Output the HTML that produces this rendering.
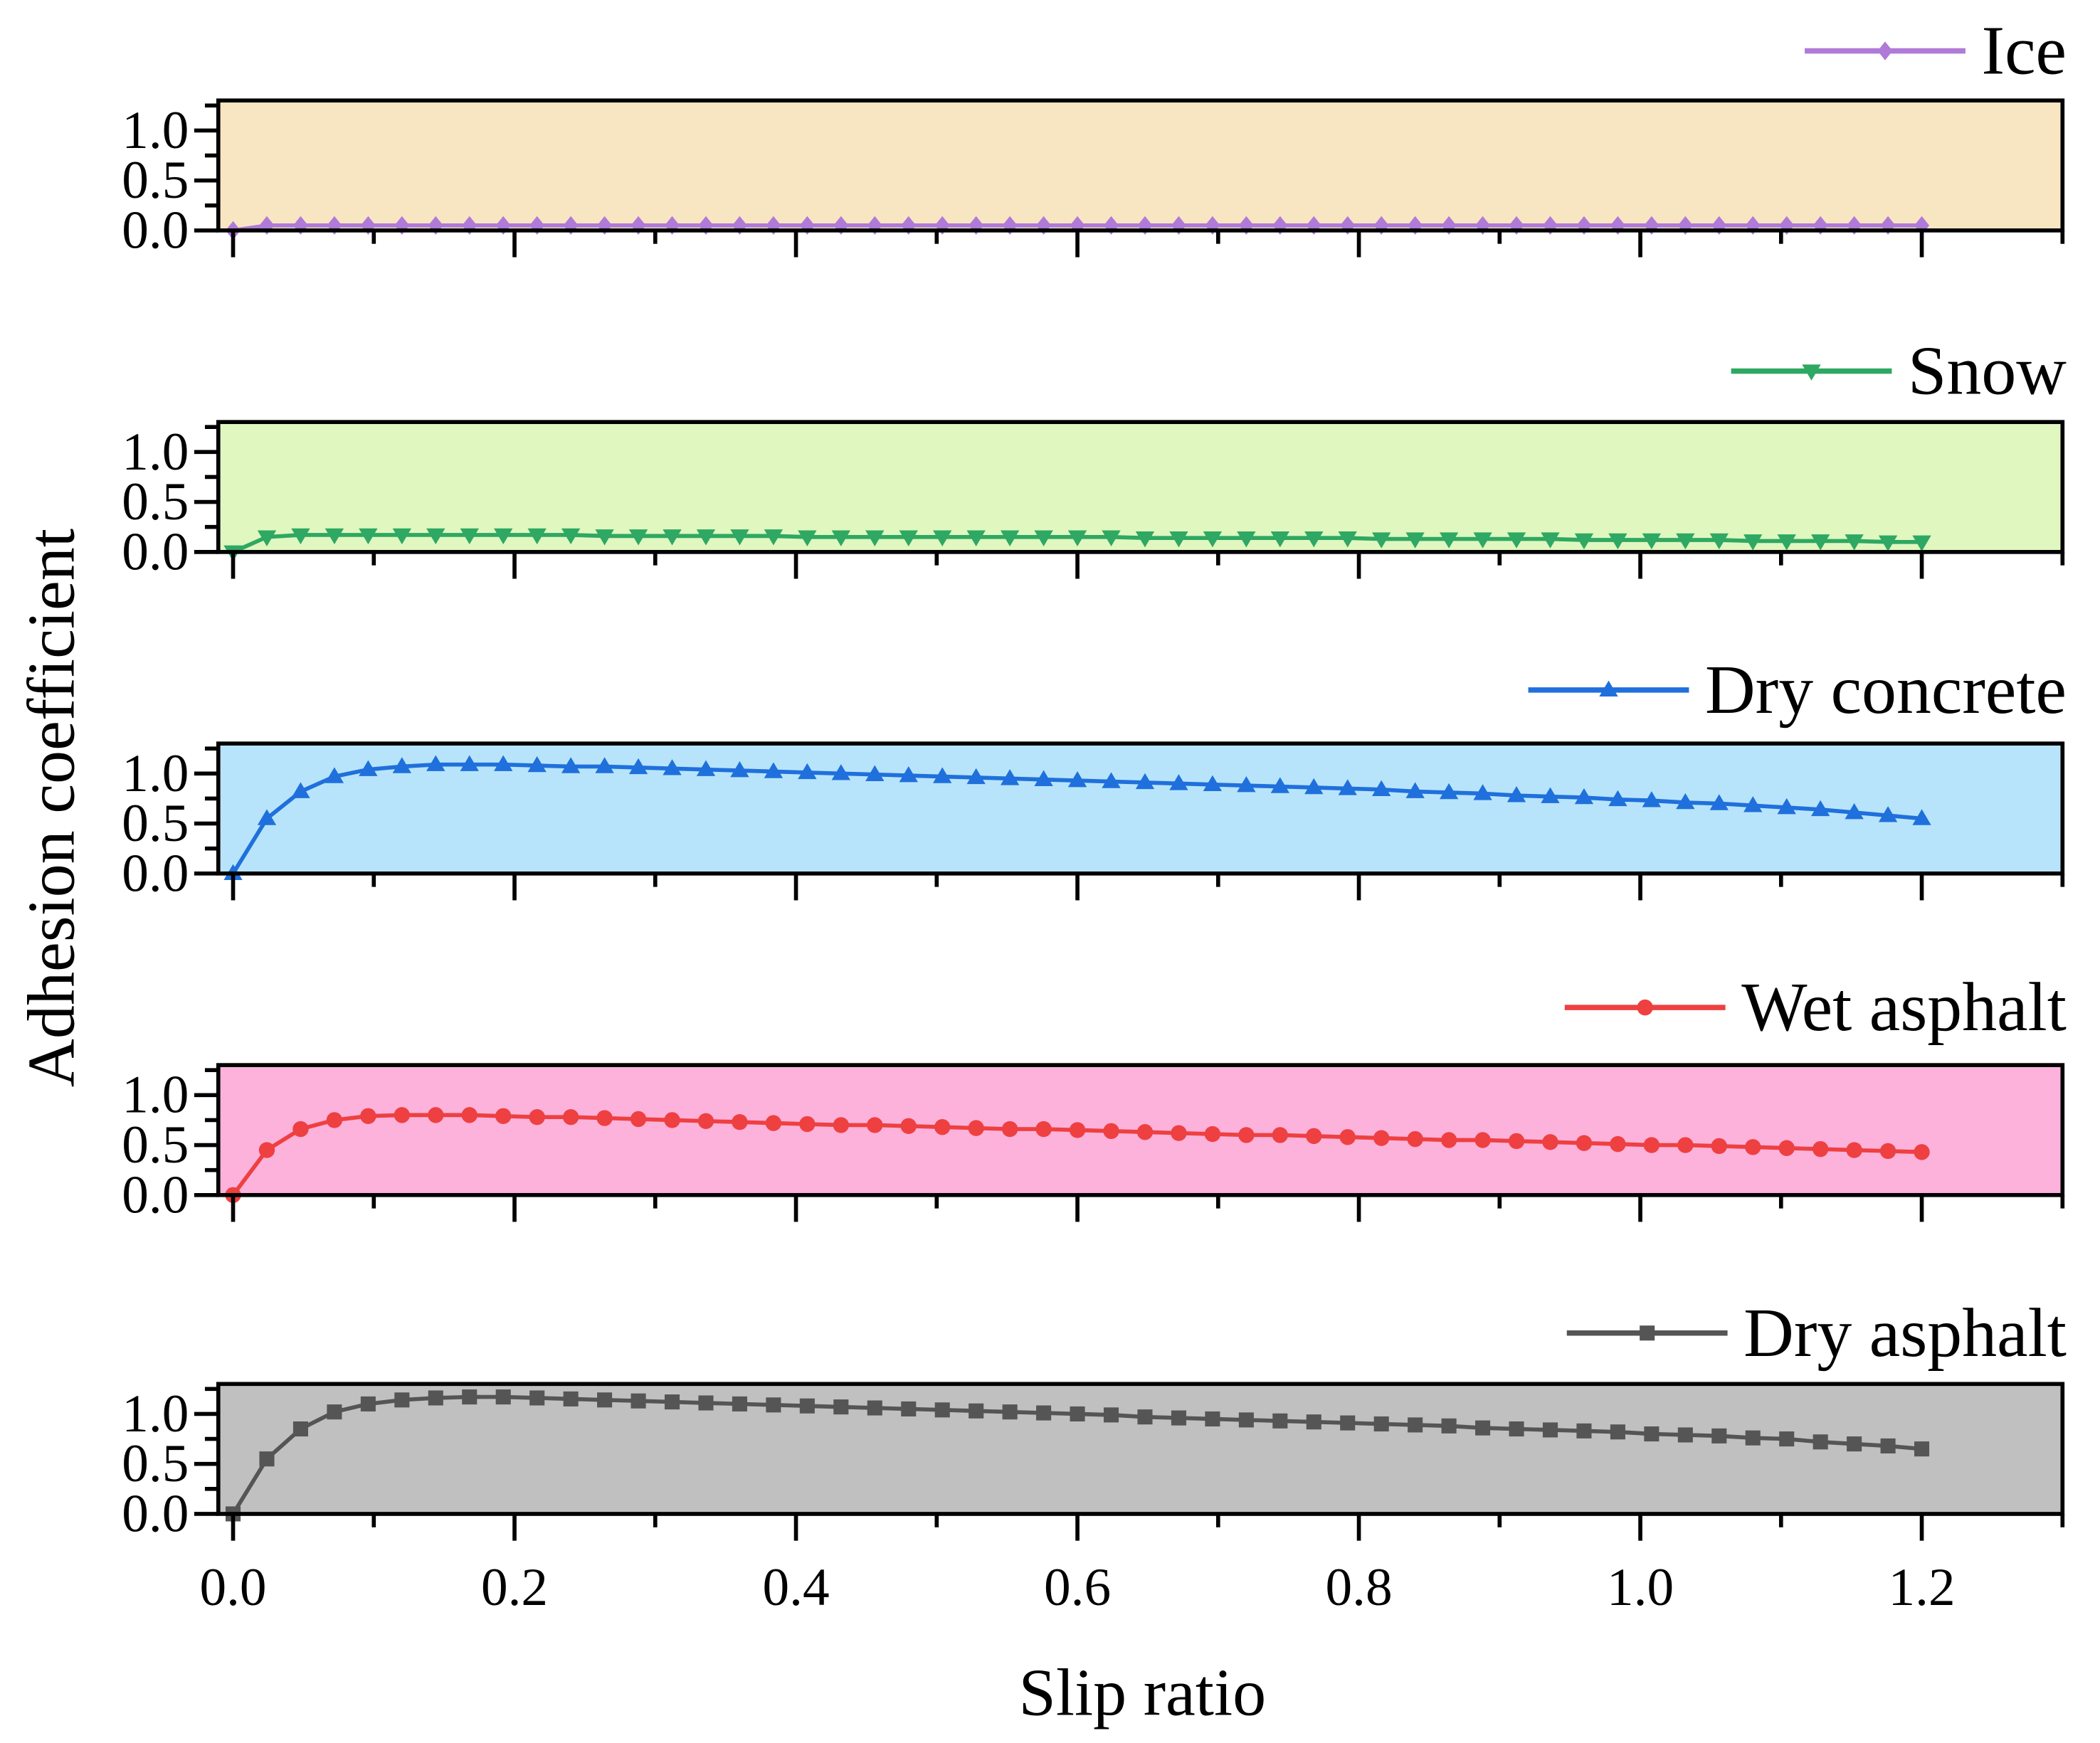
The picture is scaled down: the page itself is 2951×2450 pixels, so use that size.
<!DOCTYPE html>
<html><head><meta charset="utf-8"><style>
html,body{margin:0;padding:0;background:#fff;}
svg{display:block;}
text{font-family:"Liberation Serif","Times New Roman",serif;fill:#000;}
</style></head><body>
<svg id="chart" width="2951" height="2450" viewBox="0 0 1568 1301" preserveAspectRatio="none" xmlns="http://www.w3.org/2000/svg">
<g id="root"></g>
</svg>
<script>
const slipStep = 0.024;
const pointCount = 51;
const seriesNames = ["Ice","Snow","Dry concrete","Wet asphalt","Dry asphalt"];
const iceValues = [0,0.05,0.05,0.05,0.05,0.05,0.05,0.05,0.05,0.05,0.05,0.05,0.05,0.05,0.05,0.05,0.05,0.05,0.05,0.05,0.05,0.05,0.05,0.05,0.05,0.05,0.05,0.05,0.05,0.05,0.05,0.05,0.05,0.05,0.05,0.05,0.05,0.05,0.05,0.05,0.05,0.05,0.05,0.05,0.05,0.05,0.05,0.05,0.05,0.05,0.05];
const snowValues = [0,0.15,0.17,0.17,0.17,0.17,0.17,0.17,0.17,0.17,0.17,0.16,0.16,0.16,0.16,0.16,0.16,0.15,0.15,0.15,0.15,0.15,0.15,0.15,0.15,0.15,0.15,0.14,0.14,0.14,0.14,0.14,0.14,0.14,0.13,0.13,0.13,0.13,0.13,0.13,0.12,0.12,0.12,0.12,0.12,0.11,0.11,0.11,0.11,0.10,0.10];
const concreteValues = [0,0.55,0.82,0.97,1.04,1.07,1.09,1.09,1.09,1.08,1.07,1.07,1.06,1.05,1.04,1.03,1.02,1.01,1.00,0.99,0.98,0.97,0.96,0.95,0.94,0.93,0.92,0.91,0.90,0.89,0.88,0.87,0.86,0.85,0.84,0.82,0.81,0.80,0.78,0.77,0.76,0.74,0.73,0.71,0.70,0.68,0.66,0.64,0.61,0.58,0.55];
const wetValues = [0,0.45,0.66,0.75,0.79,0.80,0.80,0.80,0.79,0.78,0.78,0.77,0.76,0.75,0.74,0.73,0.72,0.71,0.70,0.70,0.69,0.68,0.67,0.66,0.66,0.65,0.64,0.63,0.62,0.61,0.60,0.60,0.59,0.58,0.57,0.56,0.55,0.55,0.54,0.53,0.52,0.51,0.50,0.50,0.49,0.48,0.47,0.46,0.45,0.44,0.43];
const dryAsphaltValues = [0,0.55,0.85,1.02,1.10,1.14,1.16,1.17,1.17,1.16,1.15,1.14,1.13,1.12,1.11,1.10,1.09,1.08,1.07,1.06,1.05,1.04,1.03,1.02,1.01,1.00,0.99,0.97,0.96,0.95,0.94,0.93,0.92,0.91,0.90,0.89,0.88,0.86,0.85,0.84,0.83,0.82,0.80,0.79,0.78,0.76,0.75,0.72,0.70,0.68,0.65];
const xTickLabels = ["0.0","0.2","0.4","0.6","0.8","1.0","1.2"];
const yTickLabels = ["0.0","0.5","1.0"];

const NS="http://www.w3.org/2000/svg";
const root=document.getElementById('root');
function mk(tag,attrs,parent){const e=document.createElementNS(NS,tag);for(const k in attrs)e.setAttribute(k,attrs[k]);(parent||root).appendChild(e);return e;}
const X0=163,X1=1540,xMin=-0.0105,xMax=1.3;
function xs(v){return X0+(v-xMin)/(xMax-xMin)*(X1-X0);}
const PH=97,yMax=1.3;
const panels=[
 {vals:iceValues,top:75,bg:"#f8e6c2",col:"#b07ad8",mk:"diamond",ly:38},
 {vals:snowValues,top:315,bg:"#e0f7c0",col:"#2ea862",mk:"tridown",ly:277},
 {vals:concreteValues,top:555,bg:"#b8e4fb",col:"#1f70dc",mk:"triup",ly:515},
 {vals:wetValues,top:795,bg:"#fdb2dc",col:"#ee4040",mk:"circle",ly:752},
 {vals:dryAsphaltValues,top:1033,bg:"#c0c0c0",col:"#555555",mk:"square",ly:995}
];
function marker(g,type,cx,cy,col,s){
 let e;
 if(type==="circle")e=mk('circle',{cx:cx,cy:cy,r:s*0.85,fill:col},g);
 else if(type==="square")e=mk('rect',{x:cx-s*0.8,y:cy-s*0.8,width:s*1.6,height:s*1.6,fill:col},g);
 else if(type==="triup")e=mk('polygon',{points:`${cx},${cy-s} ${cx-s},${cy+s*0.7} ${cx+s},${cy+s*0.7}`,fill:col},g);
 else if(type==="tridown")e=mk('polygon',{points:`${cx},${cy+s} ${cx-s},${cy-s*0.7} ${cx+s},${cy-s*0.7}`,fill:col},g);
 else e=mk('polygon',{points:`${cx},${cy-s} ${cx+s*0.8},${cy} ${cx},${cy+s} ${cx-s*0.8},${cy}`,fill:col},g);
 return e;
}
panels.forEach((p,pi)=>{
 const g=mk('g',{});
 
 
 const bot=p.top+PH;
 const ys=v=>bot-v/yMax*PH;
 mk('rect',{x:X0,y:p.top,width:X1-X0,height:PH,fill:p.bg},g);
 const pts=[];
 for(let i=0;i<pointCount;i++)pts.push(xs(i*slipStep).toFixed(2)+','+ys(p.vals[i]).toFixed(2));
 const line=mk('polyline',{points:pts.join(' '),fill:'none',stroke:p.col,'stroke-width':3,'stroke-linejoin':'round'},g);
 
 
 for(let i=0;i<pointCount;i++){
  const m=marker(g,p.mk,xs(i*slipStep),ys(p.vals[i]),p.col,7);
  
  
 }
 mk('rect',{x:X0,y:p.top,width:X1-X0,height:PH,fill:'none',stroke:'#000','stroke-width':3},g);
 [0,0.25,0.5,0.75,1.0,1.25].forEach((v,k)=>{
  const len=k%2===0?18:10;
  mk('line',{x1:X0-len,x2:X0,y1:ys(v),y2:ys(v),stroke:'#000','stroke-width':3},g);
 });
 yTickLabels.forEach((t,k)=>{
  const tx=mk('text',{x:X0-22,y:ys(k*0.5)+13,'text-anchor':'end','font-size':40},g);
  tx.textContent=t;
  
  
 });
 for(let k=0;k<=13;k++){
  const v=k*0.1;const len=(k%2===0&&k<13)?20:10;
  mk('line',{x1:xs(v),x2:xs(v),y1:bot,y2:bot+len,stroke:'#000','stroke-width':3},g);
 }
 const lt=mk('text',{x:1543,y:p.ly+17,'text-anchor':'end','font-size':52},g);
 lt.textContent=seriesNames[pi];
 
 
 const w=lt.getComputedTextLength();
 const lx2=1543-w-12,lx1=lx2-120;
 const ll=mk('line',{x1:lx1,x2:lx2,y1:p.ly,y2:p.ly,stroke:p.col,'stroke-width':4},g);
 
 
 marker(g,p.mk,(lx1+lx2)/2,p.ly,p.col,7);
});
xTickLabels.forEach((t,k)=>{
 const tx=mk('text',{x:xs(k*0.2),y:1198,'text-anchor':'middle','font-size':40});
 tx.textContent=t;
 
 
});
const xt=mk('text',{x:853,y:1280,'text-anchor':'middle','font-size':50});
xt.textContent="Slip ratio";


const yt=mk('text',{x:0,y:0,'text-anchor':'middle','font-size':50,transform:'translate(55,603) rotate(-90)'});
yt.textContent="Adhesion coefficient";


</script>
</body></html>
